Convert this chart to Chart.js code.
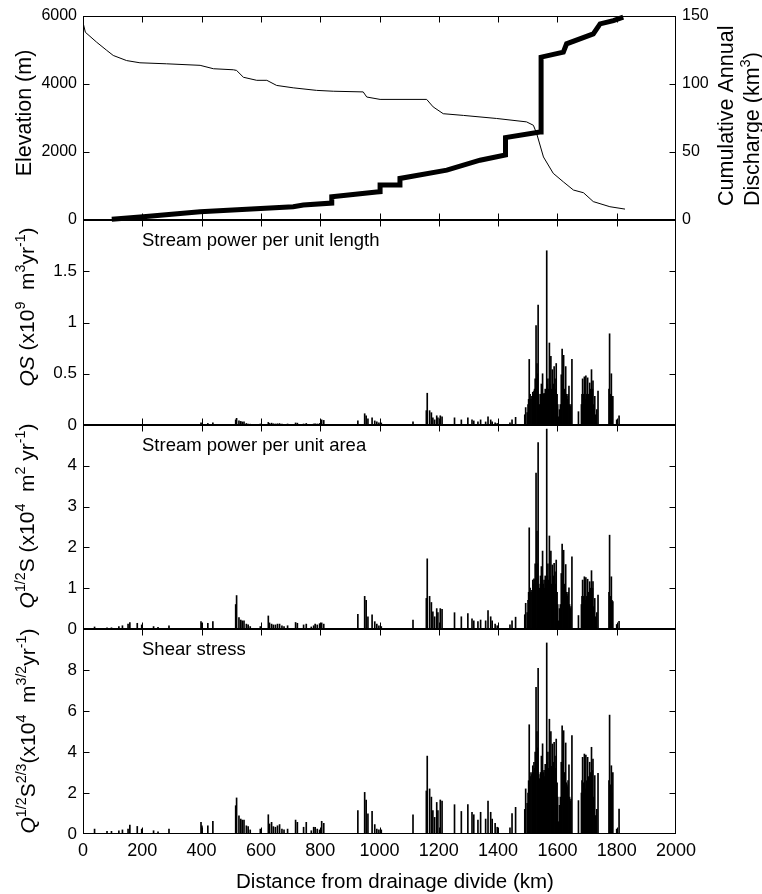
<!DOCTYPE html>
<html>
<head>
<meta charset="utf-8">
<title>Stream power and shear stress along the drainage profile</title>
<script src="https://cdn.jsdelivr.net/npm/chart.js@4.4.1/dist/chart.umd.min.js"></script>
<style>
  html, body { margin: 0; padding: 0; background: #fff; }
  #wrap { position: relative; width: 762px; height: 894px; background: #fff; }
  #wrap canvas { position: absolute; left: 0; top: 0; }
</style>
</head>
<body>
<div id="wrap">
  <canvas id="profile" width="762" height="894"></canvas>
  <canvas id="powerLength" width="762" height="894"></canvas>
  <canvas id="powerArea" width="762" height="894"></canvas>
  <canvas id="shear" width="762" height="894"></canvas>
</div>
<script>
// ---- values ----
const xTickKm = [0, 200, 400, 600, 800, 1000, 1200, 1400, 1600, 1800, 2000];

// long profile (thin line, left axis)
const elevKm = [0, 8, 46, 80, 102, 147, 192, 282, 395, 440, 507, 518, 541, 586, 620, 653, 709, 788, 844, 945, 957, 1002,
  1159, 1181, 1215, 1283, 1395, 1496, 1519, 1530, 1553, 1586, 1620, 1654, 1688, 1721, 1777, 1828];
const elevM = [5800, 5510, 5220, 4980, 4830, 4680, 4615, 4585, 4540, 4440, 4410, 4390, 4190, 4100, 4100, 3950, 3880, 3805, 3780, 3760, 3610, 3540,
  3540, 3320, 3120, 3070, 2980, 2880, 2780, 2540, 1850, 1370, 1120, 880, 800, 540, 390, 320];

// cumulative annual discharge (thick line, right axis)
const dischargeKm = [97, 203, 395, 709, 743, 839, 839, 990, 1002, 1002, 1069, 1069, 1227, 1339, 1425, 1425, 1541, 1545, 1545, 1620, 1631, 1721, 1744, 1789, 1822];
const dischargeKm3 = [0.5, 2.4, 6.1, 9.8, 11, 12.4, 17, 20.5, 20.7, 25.6, 25.6, 30.5, 36.6, 43.9, 47.8, 60.5, 64.6, 64.6, 119.5, 123.2, 129.3, 136.6, 143.9, 146.3, 148.8];

// spike positions shared by the three lower panels
const spikeKm = [
  39, 81, 96, 121, 133, 152, 158, 183, 198, 238, 253, 290,
  398, 401, 421, 438, 515, 518, 526, 532, 537, 543, 551, 557, 564, 598,
  625, 629, 636, 642, 649, 656, 663, 671, 678, 690, 717, 723, 744, 753,
  770, 778, 783, 790, 798, 805, 812, 927, 950, 955, 961, 975, 984, 991, 998, 1006,
  1113, 1158, 1161, 1169, 1175, 1180, 1186, 1193, 1197, 1205, 1211,
  1253, 1276, 1298, 1312, 1318, 1332, 1341, 1358, 1366, 1375, 1380, 1390, 1397,
  1440, 1447, 1459, 1493, 1498, 1501, 1505, 1508, 1511, 1514, 1517, 1521, 1525, 1528, 1531, 1535,
  1539, 1543, 1546, 1550, 1552, 1555, 1559, 1561, 1564, 1568, 1570, 1573, 1575, 1578, 1580,
  1583, 1586, 1589, 1592, 1596, 1599, 1604, 1610, 1613, 1616, 1619, 1621, 1624, 1626, 1628,
  1632, 1636, 1639, 1643, 1646, 1649, 1671, 1683, 1685, 1688, 1691, 1694, 1696, 1699, 1702,
  1704, 1706, 1709, 1712, 1715, 1718, 1720, 1723, 1726, 1737, 1776, 1779, 1782, 1784, 1787, 1800, 1808
];

// QS, x10^9 m^3 yr^-1
const qsPower = [
  .003, .002, .002, .004, .004, .005, .006, .005, .004, .004, .003, .005,
  .02, .012, .015, .02, .05, .065, .04, .035, .03, .03, .015, .01, .008, .01,
  .025, .015, .018, .012, .01, .012, .014, .008, .006, .01, .02, .018, .01, .015,
  .006, .01, .012, .01, .015, .05, .045, .04, .11, .09, .06, .07, .04, .03, .02, .02,
  .03, .14, .31, .14, .12, .07, .05, .09, .07, .09, .08,
  .07, .05, .07, .05, .04, .03, .05, .03, .08, .05, .03, .02, .015,
  .02, .05, .075, .17, .12, .2, .64, .3, .25, .28, .32, .33, .45, .97, .6, 1.17,
  .2, .3, .4, .5, .3, .31, .35, .3, 1.7, .45, .35, .8, .4, .67, .35,
  .54, .4, .57, .45, .6, .3, .08, .2, .49, .74, .4, .68, .35, .3, .57,
  .28, .3, .38, .18, .2, .64, .13, .3, .45, .3, .47, .25, .48, .3, .46,
  .2, .3, .41, .35, .54, .35, .43, .2, .28, .33, .89, .3, .5, .25, .28, .05, .09
];

// Q^1/2 S, x10^4 m^2 yr^-1
const areaPower = [
  .05, .03, .03, .06, .08, .12, .16, .14, .1, .06, .04, .08,
  .18, .14, .14, .18, .6, .82, .28, .22, .2, .2, .12, .1, .06, .06,
  .32, .15, .12, .1, .1, .12, .12, .08, .06, .08, .16, .14, .1, .12,
  .05, .08, .12, .1, .13, .15, .12, .36, .8, .7, .3, .35, .18, .12, .08, .06,
  .22, .75, 1.72, .8, .65, .42, .3, .5, .4, .5, .48,
  .4, .3, .38, .25, .2, .18, .22, .2, .45, .3, .2, .12, .08,
  .1, .2, .29, .63, .4, .7, 2.48, 1.0, .9, .95, 1.2, 1.23, 1.6, 3.82, 2.4, 4.57,
  1.0, 1.3, 1.53, 1.91, 1.1, 1.2, 1.3, 1.0, 4.9, 1.6, 1.2, 2.28, 1.3, 1.91, 1.1,
  1.57, 1.3, 1.61, 1.4, 1.69, .9, .2, .6, 1.36, 2.08, 1.2, 1.93, 1.1, .9, 1.58,
  .85, .9, 1.01, .5, .55, 1.77, .33, .8, 1.2, .8, 1.28, .7, 1.26, .8, 1.22,
  .6, .9, 1.16, 1.0, 1.43, 1.0, 1.16, .55, .75, .83, 2.3, .8, 1.28, .7, .67, .11, .19
];

// Q^1/2 S^2/3, x10^4 m^3/2 yr^-1
const shearStress = [
  .24, .13, .13, .16, .2, .24, .44, .37, .24, .16, .11, .24,
  .57, .4, .4, .62, 1.38, 1.76, .89, .73, .68, .68, .4, .36, .2, .24,
  .94, .49, .57, .36, .33, .4, .46, .24, .2, .24, .68, .57, .33, .57,
  .16, .33, .33, .24, .2, .62, .52, 1.14, 2.03, 1.66, .98, 1.1, .46, .24, .2, .2,
  .94, 2.1, 3.8, 2.2, 1.8, 1.14, .81, 1.54, 1.14, 1.66, 1.6,
  1.43, 1.1, 1.43, 1.06, .94, .68, 1.06, .73, 1.6, 1.06, .73, .52, .33,
  .3, 1.0, 1.3, 2.2, 1.5, 2.0, 5.33, 2.8, 3.0, 2.9, 3.33, 3.5, 4.0, 7.15, 5.0, 8.08,
  2.7, 3.0, 3.8, 4.4, 3.0, 3.1, 3.4, 2.9, 9.32, 4.0, 3.2, 5.6, 3.6, 5.0, 3.3,
  4.39, 3.5, 4.47, 3.8, 4.63, 2.5, .6, 1.8, 3.5, 5.28, 3.4, 5.04, 3.0, 2.6, 4.44,
  2.4, 2.6, 3.37, 1.6, 1.7, 4.8, 1.63, 2.6, 3.74, 2.5, 3.9, 2.2, 3.85, 2.6, 3.74,
  1.9, 2.8, 3.5, 3.0, 4.23, 3.1, 3.66, 1.8, 2.85, 2.96, 5.8, 2.4, 3.33, 2.0, 3.0, .24, 1.22
];

// the solid black floor of the main cluster, read as extra spikes
const fillKm = [1490, 1503, 1519, 1523, 1533, 1537, 1548, 1557, 1566, 1594, 1601, 1607, 1630, 1634, 1641, 1681, 1714, 1729, 1733, 1774];
const fillQs = [.1, .25, .3, .35, .5, .3, .35, .3, .4, .35, .2, .15, .3, .25, .2, .2, .3, .1, .15, .35];
const fillArea = [.35, .9, 1.1, 1.2, 1.6, 1.1, 1.2, 1.0, 1.3, 1.1, .6, .5, .9, .8, .6, .6, .9, .3, .4, .9];
const fillShear = [1.2, 2.6, 3.0, 3.2, 4.2, 2.9, 3.3, 2.8, 3.5, 3.2, 1.8, 1.4, 2.5, 2.3, 1.8, 2.0, 2.8, .9, 1.2, 2.6];

// ---- layout ----
const FONT = "'Liberation Sans', Arial, Helvetica, sans-serif";
const PAGE_H = 894;
const PLOT_LEFT = 83;
const PLOT_RIGHT = 676;
const PAGE_W = 762;
const TICK_LEN = 6;

function points(xs, ys) {
  return xs.map((x, i) => ({ x: x, y: ys[i] }));
}

// rotated label with italic / superscript runs, reading bottom to top
function richText(ctx, parts, cx, cy, size, anchor) {
  ctx.save();
  ctx.translate(cx, cy);
  ctx.rotate(-Math.PI / 2);
  ctx.fillStyle = '#000';
  ctx.textBaseline = 'alphabetic';
  ctx.textAlign = 'left';
  const runs = parts.map(([txt, style]) => {
    const sup = style.includes('^');
    const font = (style.includes('i') ? 'italic ' : '') + (sup ? size * 0.68 : size) + 'px ' + FONT;
    ctx.font = font;
    return { txt: txt, font: font, dy: sup ? -size * 0.42 : 0, w: ctx.measureText(txt).width };
  });
  const total = runs.reduce((s, r) => s + r.w, 0);
  let x = anchor === 'start' ? 0 : -total / 2;
  runs.forEach(r => {
    ctx.font = r.font;
    ctx.fillText(r.txt, x, r.dy + size * 0.36);
    x += r.w;
  });
  ctx.restore();
}

function plainText(ctx, txt, x, y, size, align) {
  ctx.save();
  ctx.fillStyle = '#000';
  ctx.font = size + 'px ' + FONT;
  ctx.textAlign = align || 'left';
  ctx.textBaseline = 'alphabetic';
  ctx.fillText(txt, x, y);
  ctx.restore();
}

// box round the axes with inward ticks, MATLAB style, plus the panel's text
function decoration(rightId, drawText) {
  return {
    id: 'decoration',
    afterDatasetsDraw(chart) {
      const ctx = chart.ctx;
      const a = chart.chartArea;
      const L = Math.round(a.left) + 0.5, R = Math.round(a.right) - 0.5;
      const T = Math.round(a.top) + 0.5, B = Math.round(a.bottom) - 0.5;
      const xs = chart.scales.x, ys = chart.scales.y;
      const yr = rightId ? chart.scales[rightId] : null;
      ctx.save();
      ctx.strokeStyle = '#000';
      ctx.lineWidth = 1;
      ctx.strokeRect(L, T, R - L, B - T);
      ctx.beginPath();
      xTickKm.forEach(v => {
        const px = Math.min(R, Math.max(L, Math.round(xs.getPixelForValue(v)) + 0.5));
        ctx.moveTo(px, T); ctx.lineTo(px, T + TICK_LEN);
        ctx.moveTo(px, B); ctx.lineTo(px, B - TICK_LEN);
      });
      ys.ticks.forEach(t => {
        const py = Math.min(B, Math.max(T, Math.round(ys.getPixelForValue(t.value)) + 0.5));
        ctx.moveTo(L, py); ctx.lineTo(L + TICK_LEN, py);
        if (!yr) { ctx.moveTo(R, py); ctx.lineTo(R - TICK_LEN, py); }
      });
      if (yr) {
        yr.ticks.forEach(t => {
          const py = Math.min(B, Math.max(T, Math.round(yr.getPixelForValue(t.value)) + 0.5));
          ctx.moveTo(R, py); ctx.lineTo(R - TICK_LEN, py);
        });
      }
      ctx.stroke();
      ctx.restore();
      drawText(ctx);
    }
  };
}

function valueAxis(position, max, step, fontSize, hideMax, width) {
  return {
    type: 'linear',
    position: position,
    min: 0,
    max: max,
    grid: { display: false, drawTicks: false },
    border: { display: false },
    ticks: {
      stepSize: step,
      autoSkip: false,
      padding: 6,
      color: '#000',
      font: { family: FONT, size: fontSize },
      callback: v => (hideMax && v === max) ? '' : String(v)
    },
    afterFit: s => { s.width = width; }
  };
}

function buildPanel(canvasId, type, top, bottom, datasets, yScales, rightId, showX, drawText) {
  const xAxis = {
    type: 'linear',
    min: 0,
    max: 2000,
    offset: false,
    display: showX,
    grid: { display: false, drawTicks: false },
    border: { display: false },
    ticks: {
      stepSize: 200,
      autoSkip: false,
      maxRotation: 0,
      padding: 6,
      color: '#000',
      font: { family: FONT, size: 18 },
      callback: v => String(v)
    }
  };
  if (showX) xAxis.afterFit = s => { s.height = PAGE_H - bottom; };
  const scales = Object.assign({ x: xAxis }, yScales);

  return new Chart(document.getElementById(canvasId), {
    type: type,
    data: { datasets: datasets },
    options: {
      responsive: false,
      maintainAspectRatio: false,
      animation: false,
      devicePixelRatio: 1,
      events: [],
      layout: {
        padding: {
          top: top,
          bottom: showX ? 0 : PAGE_H - bottom,
          left: 0,
          right: rightId ? 0 : PAGE_W - PLOT_RIGHT
        }
      },
      plugins: { legend: { display: false }, tooltip: { enabled: false } },
      scales: scales
    },
    plugins: [decoration(rightId, drawText)]
  });
}

function spikeSet(values, fillValues) {
  const bar = {
    backgroundColor: '#000',
    borderWidth: 0,
    barThickness: 1,
    grouped: false,
    yAxisID: 'y'
  };
  return [
    Object.assign({ data: points(spikeKm, values) }, bar),
    Object.assign({ data: points(fillKm, fillValues) }, bar)
  ];
}

// panel 1: elevation and cumulative discharge
buildPanel('profile', 'line', 15, 220, [
  {
    data: points(dischargeKm, dischargeKm3),
    yAxisID: 'yR',
    borderColor: '#000',
    borderWidth: 5,
    borderJoinStyle: 'miter',
    pointRadius: 0,
    tension: 0,
    clip: 4,
    order: 0
  },
  {
    data: points(elevKm, elevM),
    yAxisID: 'y',
    borderColor: '#000',
    borderWidth: 1,
    pointRadius: 0,
    tension: 0,
    order: 1
  }
], {
  y: valueAxis('left', 6000, 2000, 16, false, PLOT_LEFT),
  yR: valueAxis('right', 150, 50, 16, false, PAGE_W - PLOT_RIGHT)
}, 'yR', false, ctx => {
  richText(ctx, [['Elevation (m)', '']], 23, 113, 21.5, 'center');
  richText(ctx, [['Cumulative Annual', '']], 725, 206, 21.5, 'start');
  richText(ctx, [['Discharge (km', ''], ['3', '^'], [')', '']], 751, 206, 21.5, 'start');
});

// panel 2: stream power per unit length
buildPanel('powerLength', 'bar', 220, 425, spikeSet(qsPower, fillQs), {
  y: valueAxis('left', 2, 0.5, 17, true, PLOT_LEFT)
}, null, false, ctx => {
  plainText(ctx, 'Stream power per unit length', 142, 246, 18.5);
  richText(ctx, [['QS', 'i'], [' (x10', ''], ['9', '^'], ['  m', ''], ['3', '^'], ['yr', ''], ['-1', '^'], [')', '']], 26, 307, 21, 'center');
});

// panel 3: stream power per unit area
buildPanel('powerArea', 'bar', 425, 629, spikeSet(areaPower, fillArea), {
  y: valueAxis('left', 5, 1, 17, true, PLOT_LEFT)
}, null, false, ctx => {
  plainText(ctx, 'Stream power per unit area', 142, 451, 18.5);
  richText(ctx, [['Q', 'i'], ['1/2', '^'], ['S', ''], [' (x10', ''], ['4', '^'], ['  m', ''], ['2', '^'], [' yr', ''], ['-1', '^'], [')', '']], 26, 516, 21, 'center');
});

// panel 4: shear stress, carries the distance axis
buildPanel('shear', 'bar', 629, 834, spikeSet(shearStress, fillShear), {
  y: valueAxis('left', 10, 2, 17, true, PLOT_LEFT)
}, null, true, ctx => {
  plainText(ctx, 'Shear stress', 142, 655, 18.5);
  richText(ctx, [['Q', 'i'], ['1/2', '^'], ['S', ''], ['2/3', '^'], ['(x10', ''], ['4', '^'], ['  m', ''], ['3/2', '^'], ['yr', ''], ['-1', '^'], [')', '']], 27, 731, 21, 'center');
  plainText(ctx, 'Distance from drainage divide (km)', 395, 888, 20.5, 'center');
});
</script>
</body>
</html>
